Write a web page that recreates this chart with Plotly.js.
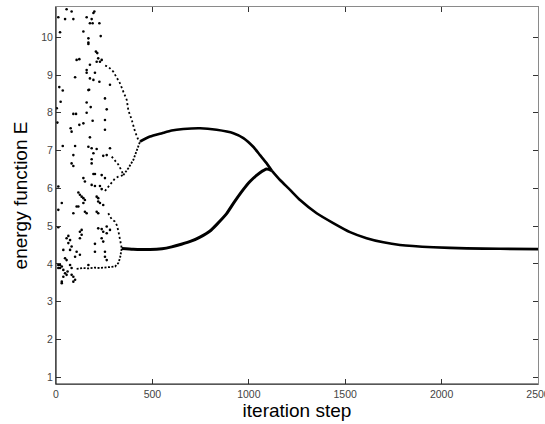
<!DOCTYPE html>
<html>
<head>
<meta charset="utf-8">
<script src="https://cdn.plot.ly/plotly-3.0.1.min.js"></script>
<style>
html,body{margin:0;padding:0;background:#fff;}
#chart{width:545px;height:424px;}
</style>
</head>
<body>
<div id="chart"></div>
<script>
// ---- scattered early iterations ----
const scatterX = [12,47,55,81,90,21,159,185,176,190,199,194,142,225,232,168,168,168,207,214,107,121,219,228,211,237,176,159,159,202,176,194,99,225,280,168,172,254,17,35,24,159,180,263,159,90,104,4,121,142,190,254,76,81,254,7,176,35,99,168,185,211,280,
  90,194,245,263,81,90,185,185,194,202,142,150,237,254,185,202,228,237,12,30,12,116,124,133,142,150,142,211,219,219,228,245,107,116,150,159,90,211,219,12,133,124,133,124,219,237,263,280,245,263,64,55,73,64,81,73,237,245,202,254,38,107,124,99,47,55,202,254,263,
  21,30,12,38,47,55,38,30,81,90,99,90,73,81,168,30,12,21,60];
const scatterY = [10.53,10.48,10.74,10.68,10.48,10.13,10.53,10.48,10.37,10.37,10.68,10.64,10.15,10.37,10.03,9.97,9.86,9.82,9.62,9.58,9.40,9.42,9.44,9.35,9.35,9.40,9.27,9.13,9.06,9.06,8.91,8.87,8.94,8.82,8.74,8.60,8.61,8.38,8.68,8.59,8.29,8.27,8.15,8.09,8.00,7.97,7.97,8.12,7.68,7.72,7.79,7.81,7.59,7.50,7.55,7.74,7.35,7.12,7.12,7.10,7.06,7.04,7.06,
  6.88,6.93,6.86,6.88,6.66,6.59,6.77,6.66,6.38,6.38,6.27,6.18,6.35,6.27,6.09,6.06,6.06,5.98,6.05,5.61,5.43,5.89,5.83,5.78,5.74,5.69,5.61,5.78,5.74,5.65,5.61,5.56,5.52,5.52,5.38,5.34,5.34,5.38,5.34,4.97,4.90,4.85,4.77,4.68,4.94,4.92,4.99,4.90,4.85,4.81,4.74,4.68,4.63,4.55,4.46,4.37,4.68,4.59,4.53,4.32,4.37,4.32,4.24,4.19,4.15,4.10,4.32,4.19,4.10,
  3.97,3.93,3.89,3.84,3.75,3.71,3.66,3.53,3.71,3.66,3.58,3.53,3.97,3.89,3.97,3.49,3.97,3.89,3.80];

// ---- dotted early branches ----
const upperBranchX = [255,271,297,315,332,349,367,375,393,410,427,436];
const upperBranchY = [9.25,9.22,9.09,8.91,8.78,8.56,8.34,8.07,7.81,7.50,7.28,7.24];
const vUpperX = [289,306,323,340,349];
const vUpperY = [6.84,6.74,6.63,6.47,6.35];
const vLowerX = [254,271,289,306,323,340,349];
const vLowerY = [5.93,6.03,6.15,6.26,6.31,6.34,6.35];
const vRiseX = [349,375,401,418,436];
const vRiseY = [6.35,6.53,6.75,6.97,7.24];
const rightEdgeX = [271,280,289,306,315,323,332,341];
const rightEdgeY = [5.34,5.25,5.18,5.12,5.03,4.88,4.60,4.41];
const bottomLineX = [107,140,170,200,228,260,290,306,323,332,338,341];
const bottomLineY = [3.87,3.89,3.88,3.90,3.89,3.91,3.91,3.93,4.02,4.15,4.33,4.41];

// ---- converged curves ----
const curveAX = [436,488,550,600,660,747,833,920,972,1023,1058,1093,1119];
const curveAY = [7.24,7.37,7.46,7.53,7.57,7.59,7.55,7.46,7.33,7.10,6.88,6.66,6.47];
const curveBX = [341,400,488,550,600,650,700,747,799,833,885,920,972,1006,1058,1093,1119];
const curveBY = [4.41,4.39,4.38,4.40,4.45,4.52,4.60,4.71,4.87,5.04,5.33,5.60,5.97,6.18,6.41,6.51,6.47];
const tailX = [1119,1162,1214,1266,1352,1438,1525,1611,1698,1784,1957,2130,2303,2500];
const tailY = [6.47,6.22,5.96,5.69,5.34,5.08,4.84,4.68,4.57,4.50,4.44,4.41,4.40,4.39];

const xTicks = [0,500,1000,1500,2000,2500];
const yTicks = [1,2,3,4,5,6,7,8,9,10];

const dotted = {color:'#000', width:1.8, dash:'2px,2.5px'};
const solid = {color:'#000', width:2.6, shape:'spline', smoothing:0.5};

const traces = [
  {x:scatterX, y:scatterY, mode:'markers', type:'scatter', marker:{color:'#000', size:2.6}},
  {x:upperBranchX, y:upperBranchY, mode:'lines', line:dotted},
  {x:vUpperX, y:vUpperY, mode:'lines', line:dotted},
  {x:vLowerX, y:vLowerY, mode:'lines', line:dotted},
  {x:vRiseX, y:vRiseY, mode:'lines', line:{color:'#000', width:1.8, dash:'2px,1.5px'}},
  {x:rightEdgeX, y:rightEdgeY, mode:'lines', line:dotted},
  {x:bottomLineX, y:bottomLineY, mode:'lines', line:{color:'#000', width:1.8, dash:'2px,1.5px'}},
  {x:curveAX, y:curveAY, mode:'lines', line:solid},
  {x:curveBX, y:curveBY, mode:'lines', line:{color:'#000', width:3, shape:'spline', smoothing:0.5}},
  {x:tailX, y:tailY, mode:'lines', line:solid}
];

const axisCommon = {
  ticks:'inside', ticklen:5, tickwidth:1, tickcolor:'#333',
  showline:true, linecolor:'#8a8a8a', linewidth:1, mirror:'ticks',
  showgrid:false, zeroline:false, ticklabeloverflow:'allow',
  tickfont:{family:'Liberation Sans, Arial, sans-serif', size:10.5, color:'#444'}
};

const layout = {
  width:545, height:424,
  margin:{l:56, r:7, t:7, b:40},
  paper_bgcolor:'#fff', plot_bgcolor:'#fff',
  showlegend:false,
  xaxis: Object.assign({}, axisCommon, {
    range:[0,2500], tickvals:xTicks, ticktext:xTicks.map(String),
    title:{text:'iteration step', font:{family:'Liberation Sans, Arial, sans-serif', size:19, color:'#000'}, standoff:4}
  }),
  yaxis: Object.assign({}, axisCommon, {
    range:[0.82,10.8], tickvals:yTicks, ticktext:yTicks.map(String),
    title:{text:'energy function E', font:{family:'Liberation Sans, Arial, sans-serif', size:19, color:'#000'}, standoff:8}
  }),
  shapes:[
    {type:'line', xref:'paper', yref:'paper', x0:0, x1:0, y0:0, y1:1, line:{color:'#222', width:1.2}},
    {type:'line', xref:'paper', yref:'paper', x0:0, x1:1, y0:0, y1:0, line:{color:'#222', width:1.2}}
  ]
};

Plotly.newPlot('chart', traces, layout, {displayModeBar:false, staticPlot:true});
</script>
</body>
</html>
